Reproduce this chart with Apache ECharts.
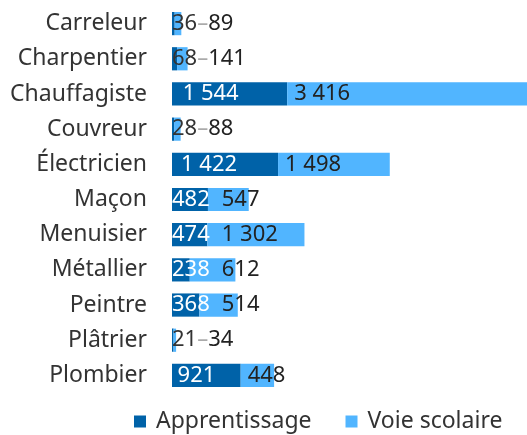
<!DOCTYPE html>
<html>
<head>
<meta charset="utf-8">
<script src="https://cdn.jsdelivr.net/npm/echarts@6/dist/echarts.min.js"></script>
<style>
  html, body { margin: 0; padding: 0; background: #fff; }
  #chart { width: 527px; height: 435px; }
</style>
</head>
<body>
<div id="chart"></div>
<script>
// métiers (de haut en bas)
var metiers = ['Carreleur', 'Charpentier', 'Chauffagiste', 'Couvreur', 'Électricien',
    'Maçon', 'Menuisier', 'Métallier', 'Peintre', 'Plâtrier', 'Plombier'];
var apprentissage = [36, 68, 1544, 28, 1422, 482, 474, 238, 368, 21, 921];
var voieScolaire = [89, 141, 3416, 88, 1498, 547, 1302, 612, 514, 34, 448];

var font = 'Noto Sans';
var valFz = 22;
var DARK = '#0062a8', LIGHT = '#51b5ff';

// 1544 -> "1 544"
function fmt(v) {
    return String(v).replace(/\B(?=(\d{3})+(?!\d))/g, ' ');
}

// largeur d'un texte en px
var ctx = document.createElement('canvas').getContext('2d');
function textW(s) {
    ctx.font = valFz + 'px "' + font + '"';
    return ctx.measureText(s).width;
}

var chart = echarts.init(document.getElementById('chart'));

var option = {
    animation: false,
    textStyle: { fontFamily: font },
    grid: {
        left: 172,
        right: 0,
        top: 6,
        bottom: 42
    },
    legend: {
        data: ['Apprentissage', 'Voie scolaire'],
        left: 129,
        top: 405,
        icon: 'rect',
        itemWidth: 12,
        itemHeight: 12,
        itemGap: 34,
        textStyle: { fontSize: 23, color: '#333', fontFamily: font, padding: [0, 0, 0, 5] }
    },
    xAxis: {
        type: 'value',
        min: 0,
        max: 4760,
        show: false
    },
    yAxis: {
        type: 'category',
        inverse: true,
        data: metiers,
        axisLine: { show: false },
        axisTick: { show: false },
        axisLabel: {
            fontSize: 23,
            color: '#333',
            margin: 25,
            fontFamily: font
        }
    },
    series: [
        {
            name: 'Apprentissage',
            type: 'bar',
            stack: 'total',
            barCategoryGap: '34%',
            itemStyle: { color: DARK },
            label: {
                show: true,
                position: 'insideLeft',
                distance: 0,
                color: '#fff',
                fontSize: valFz,
                fontFamily: font,
                formatter: function (p) { return fmt(p.value); }
            },
            data: apprentissage
        },
        {
            name: 'Voie scolaire',
            type: 'bar',
            stack: 'total',
            itemStyle: { color: LIGHT },
            label: {
                show: true,
                position: 'insideLeft',
                distance: 0,
                color: '#222',
                fontSize: valFz,
                fontFamily: font,
                formatter: function (p) { return fmt(p.value); }
            },
            data: voieScolaire
        }
    ]
};

chart.setOption(option);

// placement des étiquettes : on évite le chevauchement sur les petites barres
var x0 = chart.convertToPixel({ gridIndex: 0 }, [0, 0])[0];
var darkData = [], lightData = [];
apprentissage.forEach(function (a, i) {
    var s = voieScolaire[i];
    var aEnd = chart.convertToPixel({ gridIndex: 0 }, [a, 0])[0];
    var tEnd = chart.convertToPixel({ gridIndex: 0 }, [a + s, 0])[0];
    var wA = textW(fmt(a));
    var pad = Math.max(0, Math.min(12, (aEnd - x0 - wA) * 0.18));
    var onBar = (tEnd - x0) >= wA;
    darkData.push({
        value: a,
        label: { color: onBar ? '#fff' : '#333', offset: [pad, 0] }
    });
    var labelEnd = x0 + pad + wA;
    if (!onBar) {
        // barre trop courte : petit trait gris puis la valeur
        lightData.push({
            value: s,
            label: {
                offset: [labelEnd - aEnd, 0],
                formatter: function (p) { return '{l|–}' + fmt(p.value); },
                rich: { l: { color: '#aaa', fontSize: valFz, fontFamily: font } }
            }
        });
    } else {
        var start = Math.max(aEnd + 7, labelEnd + 12);
        lightData.push({
            value: s,
            label: { offset: [start - aEnd, 0] }
        });
    }
});

chart.setOption({
    series: [{ data: darkData }, { data: lightData }]
});
</script>
</body>
</html>
